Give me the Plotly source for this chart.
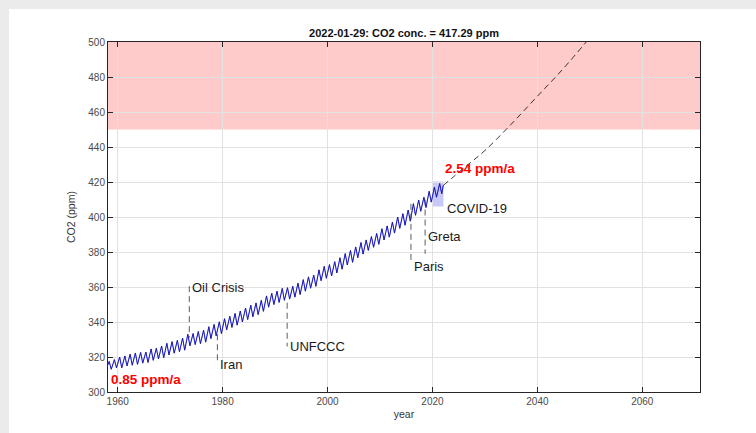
import plotly.graph_objects as go

# ---------------- data ----------------
years = list(range(1958, 2022))
may_peak = [317.5, 318.5, 320.0, 320.6, 321.6, 322.3, 322.6, 322.8, 324.6, 325.0,
            326.3, 327.8, 328.8, 329.5, 330.8, 333.0, 333.4, 334.6, 335.3, 337.3,
            338.6, 340.1, 341.9, 343.3, 344.9, 346.3, 348.0, 349.6, 350.9, 352.4,
            354.9, 356.4, 357.6, 359.2, 359.6, 360.4, 362.2, 364.2, 365.8, 366.8,
            369.8, 371.8, 372.8, 374.5, 376.7, 379.1, 380.9, 382.9, 385.4, 386.9,
            388.8, 390.6, 393.3, 394.9, 397.1, 400.0, 401.9, 404.0, 407.6, 409.7,
            411.3, 414.7, 417.1, 419.1]
oct_trough = [313.0, 313.8, 313.8, 314.9, 315.3, 315.8, 316.5, 316.9, 318.1, 318.9,
              319.6, 321.2, 322.2, 323.0, 323.9, 326.4, 327.1, 327.6, 328.5, 330.5,
              332.1, 333.4, 335.5, 336.9, 338.2, 340.0, 341.4, 343.0, 344.2, 346.1,
              348.5, 350.0, 351.2, 352.4, 353.1, 354.2, 355.7, 357.6, 359.3, 360.4,
              363.6, 365.0, 366.3, 368.0, 370.2, 372.6, 374.1, 376.7, 378.8, 380.9,
              382.7, 384.4, 386.9, 388.5, 390.8, 393.5, 395.3, 397.6, 401.0, 403.3,
              405.4, 408.5, 411.3, 413.3]
first_point = (1958.2, 315.7)
last_point = (2022.05, 418.0)

proj_years = [2022.05, 2026, 2030, 2035, 2040, 2045, 2050]
proj_ppm = [418.0, 428.0, 438.0, 453.0, 469.0, 485.0, 502.5]

event_names = ["Oil Crisis", "Iran", "UNFCCC", "Paris", "Greta"]
event_years = [1973.65, 1979.0, 1992.3, 2015.9, 2018.6]
event_top = [360.5, 333.0, 351.0, 407.5, 410.0]
event_bottom = [331.0, 317.0, 326.0, 374.0, 379.0]
event_text_y = [360.0, 316.0, 326.0, 372.0, 389.0]

covid_years = [2020.0, 2022.1]
covid_ppm = [406.0, 420.3]
covid_label_pos = (2022.3, 405.0)

limit_band = [450, 500]
rate_labels = ["0.85 ppm/a", "2.54 ppm/a"]
rate_pos_x = [1958.3, 2022.0]
rate_pos_y = [307.0, 427.6]

title_text = "2022-01-29: CO2 conc. = 417.29 ppm"
x_ticks = [1960, 1980, 2000, 2020, 2040, 2060]
y_ticks = [300, 320, 340, 360, 380, 400, 420, 440, 460, 480, 500]

# ---------------- build series ----------------
xs, ys = [first_point[0]], [first_point[1]]
for yr, p, t in zip(years, may_peak, oct_trough):
    xs += [yr + 0.37, yr + 0.77]
    ys += [p, t]
xs.append(last_point[0])
ys.append(last_point[1])

FONT = "Liberation Sans, Arial, Helvetica, sans-serif"

fig = go.Figure()
fig.add_trace(go.Scatter(x=xs, y=ys, mode="lines",
                         line=dict(color="#2020ff", width=1.0), hoverinfo="skip"))
fig.add_trace(go.Scatter(x=xs, y=ys, mode="lines",
                         line=dict(color="#14144a", width=0.4), hoverinfo="skip"))
fig.add_trace(go.Scatter(x=proj_years, y=proj_ppm, mode="lines",
                         line=dict(color="#202020", width=0.9, dash="6px,4px", shape="spline"),
                         hoverinfo="skip"))

shapes = []
# white panel (figure area)
shapes.append(dict(type="rect", xref="paper", yref="paper",
                   x0=(9 - 108) / 592, x1=(760 - 108) / 592,
                   y0=-(440 - 392) / 350, y1=1 + (42 - 9) / 350,
                   fillcolor="white", line=dict(width=0), layer="below"))
# red limit band
shapes.append(dict(type="rect", xref="x domain", yref="y", x0=0, x1=1,
                   y0=limit_band[0], y1=limit_band[1],
                   fillcolor="#ffcaca", line=dict(width=0), layer="below"))
# covid rect
shapes.append(dict(type="rect", xref="x", yref="y", x0=covid_years[0], x1=covid_years[1],
                   y0=covid_ppm[0], y1=covid_ppm[1],
                   fillcolor="#c8c8fa", line=dict(width=0), layer="below"))
for yr, a, b in zip(event_years, event_top, event_bottom):
    shapes.append(dict(type="line", xref="x", yref="y", x0=yr, x1=yr, y0=a, y1=b,
                       line=dict(color="#4a4a4a", width=0.9, dash="6px,4px")))

annotations = []
for name, yr, ty in zip(event_names, event_years, event_text_y):
    annotations.append(dict(x=yr, y=ty, xref="x", yref="y", text=name, showarrow=False,
                            xanchor="left", yanchor="middle", xshift=1,
                            font=dict(family=FONT, size=13, color="#1a1a1a")))
annotations.append(dict(x=covid_label_pos[0], y=covid_label_pos[1], xref="x", yref="y",
                        text="COVID-19", showarrow=False, xanchor="left", yanchor="middle",
                        font=dict(family=FONT, size=13, color="#1a1a1a")))
for lab, rx, ry in zip(rate_labels, rate_pos_x, rate_pos_y):
    annotations.append(dict(x=rx, y=ry, xref="x", yref="y", text="<b>" + lab + "</b>",
                            showarrow=False, xanchor="left", yanchor="middle",
                            font=dict(family=FONT, size=13.5, color="#ff0000")))

axis_common = dict(showline=True, linecolor="#262626", linewidth=1, mirror="ticks",
                   ticks="inside", ticklen=5, tickcolor="#262626", showgrid=True,
                   gridcolor="#e2e2e2", gridwidth=1, zeroline=False,
                   tickfont=dict(family=FONT, size=10, color="#4a4a4a"))

fig.update_layout(
    width=756, height=433,
    margin=dict(l=108, r=56, t=42, b=41),
    paper_bgcolor="#ebebeb", plot_bgcolor="white",
    showlegend=False,
    shapes=shapes, annotations=annotations,
    title=dict(text="<b>" + title_text + "</b>", x=0.5, xref="paper", xanchor="center",
               y=1 - 33 / 433, yref="container", yanchor="middle",
               font=dict(family=FONT, size=11, color="#111111")),
    xaxis=dict(range=[1958.15, 2071], tickvals=x_ticks,
               title=dict(text="year", standoff=4, font=dict(family=FONT, size=10.5, color="#333333")),
               **axis_common),
    yaxis=dict(range=[300, 500], tickvals=y_ticks,
               title=dict(text="CO2 (ppm)", standoff=10, font=dict(family=FONT, size=10.5, color="#333333")),
               **axis_common),
)

fig.write_html("out.html")
